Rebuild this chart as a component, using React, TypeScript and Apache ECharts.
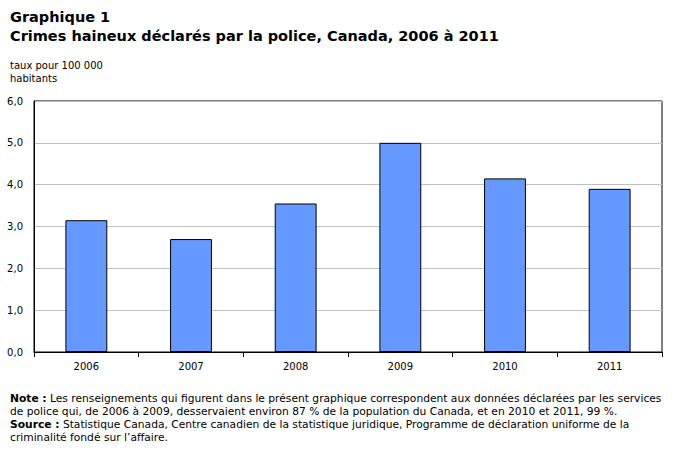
import React, { useEffect, useRef } from "react";
import * as echarts from "echarts";

const categories = ["2006", "2007", "2008", "2009", "2010", "2011"];
const values = [3.15, 2.7, 3.55, 5.0, 4.15, 3.9];
const titleLine1 = "Graphique 1";
const titleLine2 = "Crimes haineux déclarés par la police, Canada, 2006 à 2011";
const yAxisTitle = "taux pour 100 000\nhabitants";
const noteLines = [
  "{b|Note :} Les renseignements qui figurent dans le présent graphique correspondent aux données déclarées par les services",
  "de police qui, de 2006 à 2009, desservaient environ 87 % de la population du Canada, et en 2010 et 2011, 99 %.",
  "{b|Source :} Statistique Canada, Centre canadien de la statistique juridique, Programme de déclaration uniforme de la",
  "criminalité fondé sur l’affaire.",
];

const TITLE_FONT = "DejaVu Sans";
const BODY_FONT = "DejaVu Sans";

export default function App() {
  const ref = useRef<HTMLDivElement>(null);
  useEffect(() => {
    document.body.style.margin = "0";
    const chart = echarts.init(ref.current!, null, { renderer: "svg" });
    chart.setOption({
      animation: false,
      backgroundColor: "#ffffff",
      title: [
        {
          text: titleLine1 + "\n" + titleLine2,
          left: 5,
          top: 2,
          textStyle: {
            fontFamily: TITLE_FONT,
            fontSize: 14.5,
            fontWeight: "bold",
            color: "#000",
            lineHeight: 19,
          },
        },
        {
          text: yAxisTitle,
          left: 5,
          top: 54,
          textStyle: {
            fontFamily: BODY_FONT,
            fontSize: 10,
            fontWeight: "normal",
            color: "#000",
            lineHeight: 13,
          },
        },
        {
          text: noteLines.join("\n"),
          left: 5,
          top: 387,
          textStyle: {
            fontFamily: BODY_FONT,
            fontSize: 10.7,
            fontWeight: "normal",
            color: "#000",
            lineHeight: 13,
            rich: {
              b: {
                fontFamily: BODY_FONT,
                fontSize: 10.7,
                fontWeight: "bold",
                color: "#000",
                lineHeight: 13,
              },
            },
          },
        },
      ],
      grid: {
        left: 34,
        right: 12,
        top: 101,
        bottom: 98,
        show: true,
        borderColor: "#000",
        borderWidth: 1,
        backgroundColor: "transparent",
      },
      xAxis: {
        type: "category",
        data: categories,
        boundaryGap: true,
        axisLine: { show: true, lineStyle: { color: "#000", width: 1 } },
        axisTick: { show: true, length: 5, interval: 0, lineStyle: { color: "#000" } },
        axisLabel: {
          fontFamily: BODY_FONT,
          fontSize: 10,
          color: "#000",
          margin: 9,
        },
      },
      yAxis: {
        type: "value",
        min: 0,
        max: 6,
        interval: 1,
        axisLine: { show: true, lineStyle: { color: "#000", width: 1 } },
        axisTick: { show: false },
        axisLabel: {
          fontFamily: BODY_FONT,
          fontSize: 10,
          color: "#000",
          margin: 11,
          formatter: (v: number) => v.toFixed(1).replace(".", ","),
        },
        splitLine: { show: true, lineStyle: { color: "#c0c0c0", width: 1 } },
      },
      series: [
        {
          type: "bar",
          data: values,
          barWidth: "40%",
          itemStyle: { color: "#6699ff", borderColor: "#000", borderWidth: 1 },
        },
      ],
    });
    return () => chart.dispose();
  }, []);
  return <div ref={ref} style={{ width: 674, height: 450 }} />;
}
